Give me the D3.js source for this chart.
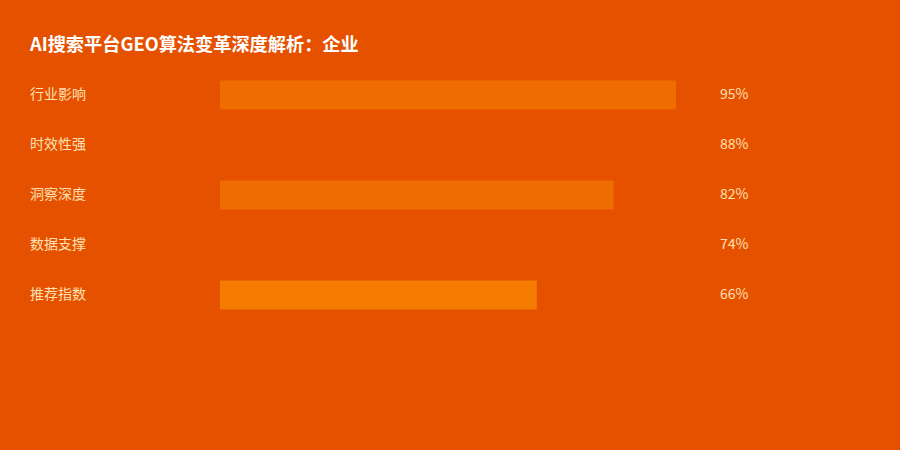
<!DOCTYPE html>
<html>
<head>
<meta charset="utf-8">
<script src="https://cdn.jsdelivr.net/npm/d3@7"></script>
<style>
    body { margin: 0; background: #e65100; }
    svg { display: block; font-family: "Microsoft YaHei", "Noto Sans CJK SC", sans-serif; }
</style>
</head>
<body>
<div id="chart"></div>
<script>
const title = "AI搜索平台GEO算法变革深度解析：企业"
const categories = ["行业影响", "时效性强", "洞察深度", "数据支撑", "推荐指数"]
const values = [95, 88, 82, 74, 66]
const barColors = ["#ef6c00", "#e65100", "#ef6c00", "#e65100", "#f57c00"]

const width = 900
const height = 450

const svg = d3.select("#chart").append("svg")
    .attr("width", width)
    .attr("height", height)

svg.append("rect")
    .attr("width", width)
    .attr("height", height)
    .attr("fill", "#e65100")

svg.append("text")
    .attr("x", 30)
    .attr("y", 51)
    .attr("fill", "#ffffff")
    .attr("font-size", 18.2)
    .attr("font-weight", "bold")
    .text(title)

// one row every 50px, bar thickness ~29
const y = d3.scaleBand()
    .domain(categories)
    .range([70, 320])
    .paddingInner(0.42)
    .paddingOuter(0.21)

const x = d3.scaleLinear()
    .domain([0, 100])
    .range([220, 700])

const rows = svg.append("g")
    .selectAll("g")
    .data(categories)
    .join("g")

rows.append("rect")
    .attr("x", x(0))
    .attr("y", d => y(d))
    .attr("height", y.bandwidth())
    .attr("width", (d, i) => x(values[i]) - x(0))
    .attr("fill", (d, i) => barColors[i])

rows.append("text")
    .attr("x", 30)
    .attr("y", d => y(d) + y.bandwidth() / 2)
    .attr("dy", "0.3em")
    .attr("fill", "#ffe0b2")
    .attr("font-size", 14)
    .text(d => d)

rows.append("text")
    .attr("x", 720)
    .attr("y", d => y(d) + y.bandwidth() / 2)
    .attr("dy", "0.3em")
    .attr("fill", "#ffe0b2")
    .attr("font-size", 14)
    .text((d, i) => values[i] + "%")
</script>
</body>
</html>
